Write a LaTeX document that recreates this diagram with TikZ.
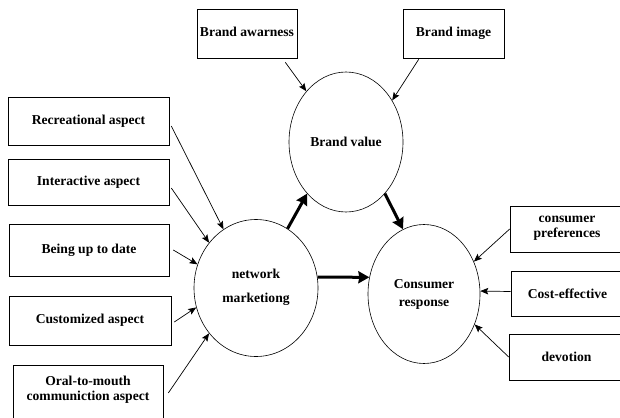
\documentclass[tikz,border=0pt]{standalone}
\usepackage{fontspec}
\setmainfont{Liberation Serif}
\usetikzlibrary{arrows.meta,shapes.geometric}

\begin{document}
\begin{tikzpicture}[x=1pt,y=-1pt,font=\fontsize{13.6}{15}\selectfont\bfseries]
    \tikzstyle{box}=[draw=black, line width=0.6pt, rectangle, inner sep=0pt, align=center, text=black]
    \tikzstyle{bubble}=[draw=black, line width=0.6pt, ellipse, inner sep=0pt, align=center, text=black]
    \tikzstyle{feed}=[line width=0.7pt, -{Stealth[length=8pt,width=6.5pt,inset=1.5pt]}]
    \tikzstyle{flow}=[line width=3pt, -{Stealth[length=11pt,width=12pt,inset=1pt]}]

    \useasboundingbox (0,0) rectangle (620,417);

    % the three constructs
    \node[bubble, minimum width=114pt, minimum height=140pt] (value) at (346,142) {Brand value};
    \node[bubble, minimum width=124pt, minimum height=137pt, text depth=4pt] (net) at (256,288) {network\\[9pt]marketiong};
    \node[bubble, minimum width=112pt, minimum height=139pt] (resp)  at (424,294) {Consumer\\[3pt]response};

    % brand side
    \node[box, minimum width=100pt, minimum height=49pt, text depth=3pt] (aware) at (247,33.5)  {Brand awarness};
    \node[box, minimum width=101pt, minimum height=49pt, text depth=3pt] (image) at (453.5,33.5) {Brand image};

    % marketing aspects
    \node[box, minimum width=161pt, minimum height=48pt] (recre)    at (88.5,121) {Recreational aspect};
    \node[box, minimum width=161pt, minimum height=46pt] (inter)    at (88.5,182) {Interactive aspect};
    \node[box, minimum width=160pt, minimum height=52pt] (uptodate) at (89,250)   {Being up to date};
    \node[box, minimum width=162pt, minimum height=49pt] (custom)   at (90,320.5) {Customized aspect};
    \node[box, minimum width=150pt, minimum height=60pt, text depth=14pt] (oral) at (88,395) {Oral-to-mouth\\communiction aspect};

    % response side (boxes run off the page)
    \node[box, minimum width=114pt, minimum height=46pt, text depth=4pt] (pref) at (567,229) {consumer\\preferences};
    \node[box, minimum width=113pt, minimum height=45pt] (cost)  at (567.5,293.5) {Cost-effective};
    \node[box, minimum width=115pt, minimum height=46pt] (devot) at (566.5,357) {devotion};

    \draw[feed] ([xshift=-12pt,yshift=-4pt]aware.south east) -- (value.128);
    \draw[feed] ([xshift=16pt,yshift=-1pt]image.south west) -- (value.42);

    \draw[feed] ([xshift=2pt,yshift=-5pt]recre.east)    -- (net.119);
    \draw[feed] ([xshift=2pt,yshift=-6pt]inter.east)    -- (net.136);
    \draw[feed] ([xshift=4pt]uptodate.east)             -- (net.158);
    \draw[feed] ([xshift=3pt,yshift=-1.5pt]custom.east) -- (net.198);
    \draw[feed] ([xshift=5pt,yshift=2pt]oral.east)      -- (net.224);

    \draw[feed] (pref.west)             -- (resp.33);
    \draw[feed] ([yshift=2pt]cost.west) -- (resp.3);
    \draw[feed] (devot.west)            -- (resp.-31);

    \draw[flow] (net.62)    -- (value.233);
    \draw[flow] (value.307) -- (resp.108);
    \draw[flow] (net.10)    -- (resp.163);
\end{tikzpicture}
\end{document}
